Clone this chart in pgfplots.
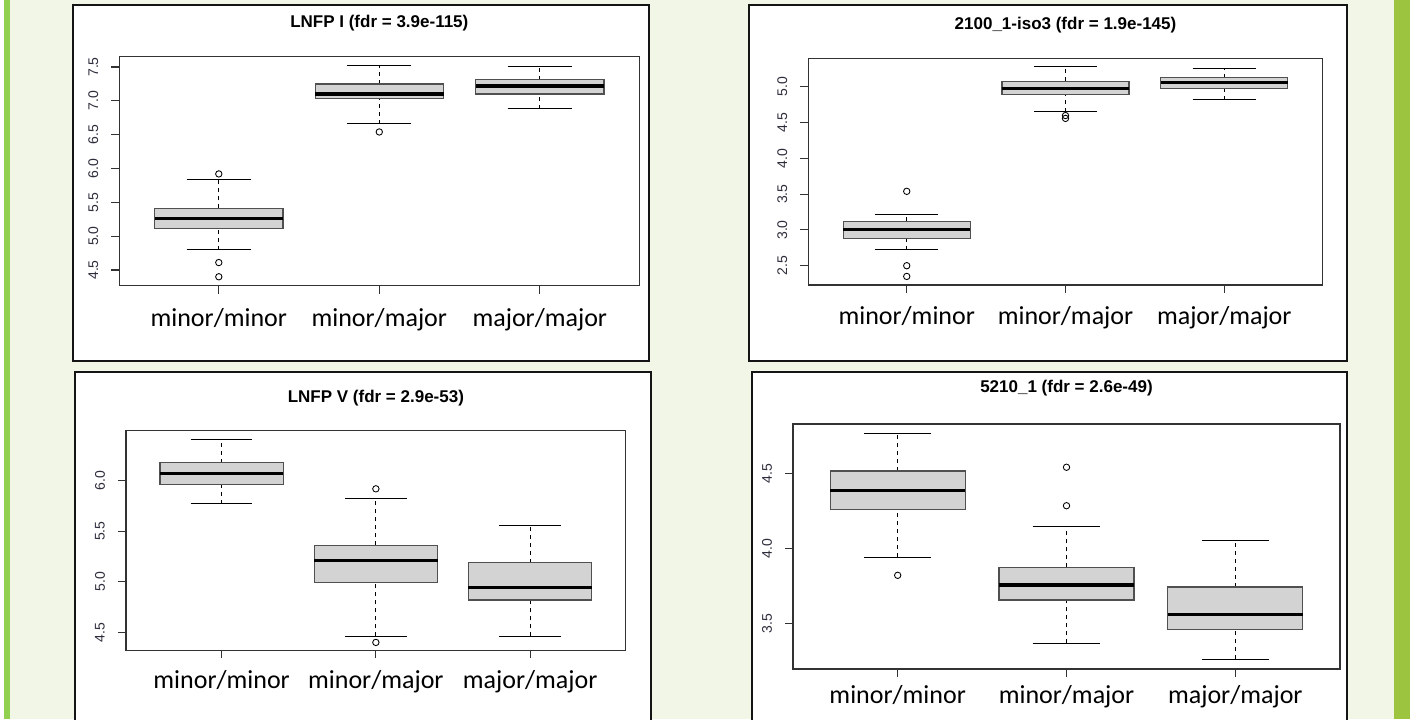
\documentclass[border=0pt]{standalone}
\usepackage{pgfplots}
\pgfplotsset{compat=1.18}
\usepgfplotslibrary{statistics}
\usepackage{fontspec}
\setmainfont{Liberation Sans}
\newfontfamily\carlito{Carlito}
\definecolor{bggreen}{RGB}{241,246,231}
\definecolor{barL}{RGB}{146,208,80}
\definecolor{barR}{RGB}{157,196,62}
\definecolor{boxfill}{RGB}{211,211,211}
\definecolor{boxdraw}{RGB}{80,80,80}
\definecolor{axiscol}{RGB}{50,50,50}
\definecolor{tickcol}{RGB}{45,45,60}
\definecolor{frame}{RGB}{20,20,20}

\pgfplotsset{
  rpanel/.style={
    scale only axis, anchor=south west,
    xmin=0.38, xmax=3.62,
    xtick={1,2,3},
    xticklabels={minor/minor, minor/major, major/major},
    tick pos=left, tick align=outside, major tick length=6pt,
    every tick/.style={axiscol, line width=0.8pt},
    axis line style={axiscol, line width=0.9pt},
    axis background/.style={fill=white},
    /pgf/number format/assume math mode=true,
    /pgf/number format/fixed, /pgf/number format/fixed zerofill, /pgf/number format/precision=1,
    yticklabel style={font=\fontsize{10.5}{12}\selectfont, text=tickcol, xshift=-13.5pt, rotate=90, anchor=center},
    xticklabel style={font=\carlito\fontsize{19.5}{22}\selectfont, text=black, anchor=base},
    every axis title/.style={at={(0.5,1)}, anchor=center, font=\fontsize{12.75}{15}\selectfont\bfseries},
  },
  rbox/.style={
    black, solid,
    mark=o, mark size=2.4pt, mark options={solid, line width=0.65pt, draw=black},
    boxplot/draw direction=y,
    boxplot/box extend=0.8,
    boxplot/whisker extend=0.4,
    boxplot/every box/.style={draw=boxdraw, fill=boxfill, line width=0.9pt},
    boxplot/every median/.style={draw=black, line width=2.4pt},
    boxplot/every whisker/.style={draw=black, line width=0.75pt},
    boxplot/draw/lower whisker/.code={%
      \draw[/pgfplots/boxplot/every whisker, dash pattern=on 3pt off 3pt]
        (boxplot box cs:\pgfplotsboxplotvalue{lower whisker},0.5) -- (boxplot box cs:\pgfplotsboxplotvalue{lower quartile},0.5);
      \draw[/pgfplots/boxplot/every whisker]
        (boxplot whisker cs:\pgfplotsboxplotvalue{lower whisker},0) -- (boxplot whisker cs:\pgfplotsboxplotvalue{lower whisker},1);
    },
    boxplot/draw/upper whisker/.code={%
      \draw[/pgfplots/boxplot/every whisker, dash pattern=on 3pt off 3pt]
        (boxplot box cs:\pgfplotsboxplotvalue{upper quartile},0.5) -- (boxplot box cs:\pgfplotsboxplotvalue{upper whisker},0.5);
      \draw[/pgfplots/boxplot/every whisker]
        (boxplot whisker cs:\pgfplotsboxplotvalue{upper whisker},0) -- (boxplot whisker cs:\pgfplotsboxplotvalue{upper whisker},1);
    },
  },
}

\begin{document}
\begin{tikzpicture}
\path[use as bounding box] (0pt,0pt) rectangle (1071pt,-539.25pt);
\clip (0pt,0pt) rectangle (1071pt,-539.25pt);
\begin{scope}[x=0.75pt,y=-0.75pt]
\fill[white] (0,0) rectangle (1428,719);
\fill[bggreen] (10,0) rectangle (1394,719);
\fill[barL] (4,0) rectangle (10,719);
\fill[barR] (1394,0) rectangle (1410,719);
\draw[frame, line width=1.5pt, fill=white] (73,5) rectangle (649,361);
\draw[frame, line width=1.5pt, fill=white] (749,5) rectangle (1347,361);
\draw[frame, line width=1.5pt, fill=white] (75,372) rectangle (651,730);
\draw[frame, line width=1.5pt, fill=white] (752,372) rectangle (1347,730);
\end{scope}

% Panel 1
\begin{axis}[rpanel, at={(89.475pt,-214.275pt)}, width=390pt, height=171.75pt,
  ymin=4.268, ymax=7.652, ytick={4.5,5,5.5,6,6.5,7,7.5},
  title={LNFP I (fdr = 3.9e-115)}, title style={yshift=25.5pt},
  xticklabel style={yshift=-24.5pt}]
\addplot[rbox, boxplot prepared={draw position=1, lower whisker=4.80, lower quartile=5.11, median=5.26, upper quartile=5.41, upper whisker=5.84}]
  table[row sep=\\, y index=0] {5.92\\ 4.61\\ 4.40\\};
\addplot[rbox, boxplot prepared={draw position=2, lower whisker=6.66, lower quartile=7.03, median=7.10, upper quartile=7.25, upper whisker=7.52}]
  table[row sep=\\, y index=0] {6.54\\};
\addplot[rbox, boxplot prepared={draw position=3, lower whisker=6.88, lower quartile=7.10, median=7.22, upper quartile=7.31, upper whisker=7.51}]
  coordinates {};
\end{axis}

% Panel 2
\begin{axis}[rpanel, at={(606.225pt,-213.75pt)}, width=385.8pt, height=170pt,
  ymin=2.23, ymax=5.40, ytick={2.5,3,3.5,4,4.5,5},
  title={2100\_1-iso3 (fdr = 1.9e-145)}, title style={yshift=25pt},
  xticklabel style={yshift=-23.75pt}]
\addplot[rbox, boxplot prepared={draw position=1, lower whisker=2.72, lower quartile=2.88, median=3.01, upper quartile=3.12, upper whisker=3.22}]
  table[row sep=\\, y index=0] {3.54\\ 2.50\\ 2.35\\};
\addplot[rbox, boxplot prepared={draw position=2, lower whisker=4.65, lower quartile=4.89, median=4.98, upper quartile=5.08, upper whisker=5.28}]
  table[row sep=\\, y index=0] {4.60\\ 4.56\\};
\addplot[rbox, boxplot prepared={draw position=3, lower whisker=4.82, lower quartile=4.98, median=5.06, upper quartile=5.13, upper whisker=5.26}]
  coordinates {};
\end{axis}

% Panel 3
\begin{axis}[rpanel, at={(94.5pt,-487.725pt)}, width=374.8pt, height=164.7pt,
  ymin=4.322, ymax=6.495, ytick={4.5,5,5.5,6},
  title={LNFP V (fdr = 2.9e-53)}, title style={yshift=24.3pt},
  xticklabel style={yshift=-23pt}]
\addplot[rbox, boxplot prepared={draw position=1, lower whisker=5.77, lower quartile=5.96, median=6.07, upper quartile=6.18, upper whisker=6.41}]
  coordinates {};
\addplot[rbox, boxplot prepared={draw position=2, lower whisker=4.46, lower quartile=4.99, median=5.21, upper quartile=5.36, upper whisker=5.82}]
  table[row sep=\\, y index=0] {5.92\\ 4.40\\};
\addplot[rbox, boxplot prepared={draw position=3, lower whisker=4.46, lower quartile=4.82, median=4.94, upper quartile=5.19, upper whisker=5.56}]
  coordinates {};
\end{axis}

% Panel 4
\begin{axis}[rpanel, at={(594.75pt,-501.75pt)}, width=410.25pt, height=183.75pt,
  ymin=3.195, ymax=4.832, ytick={3.5,4,4.5},
  title={5210\_1 (fdr = 2.6e-49)}, title style={yshift=26.8pt},
  xticklabel style={yshift=-20.2pt}]
\addplot[rbox, boxplot prepared={draw position=1, lower whisker=3.943, lower quartile=4.262, median=4.386, upper quartile=4.518, upper whisker=4.767}]
  table[row sep=\\, y index=0] {3.821\\};
\addplot[rbox, boxplot prepared={draw position=2, lower whisker=3.366, lower quartile=3.656, median=3.756, upper quartile=3.874, upper whisker=4.150}]
  table[row sep=\\, y index=0] {4.543\\ 4.286\\};
\addplot[rbox, boxplot prepared={draw position=3, lower whisker=3.259, lower quartile=3.457, median=3.557, upper quartile=3.743, upper whisker=4.052}]
  coordinates {};
\end{axis}
\end{tikzpicture}
\end{document}
